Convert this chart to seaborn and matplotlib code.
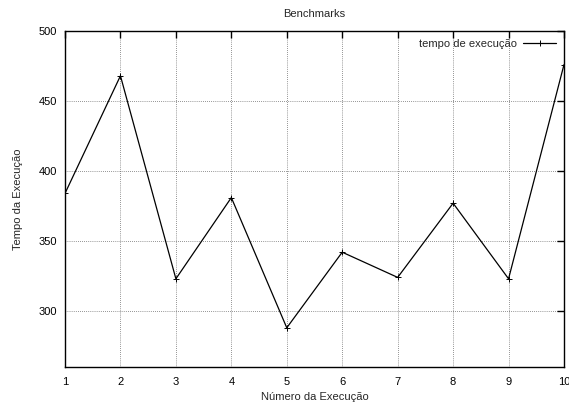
import matplotlib
matplotlib.use("Agg")
import matplotlib.pyplot as plt
import seaborn as sns
import pandas as pd

execucao = [1, 2, 3, 4, 5, 6, 7, 8, 9, 10]
tempo = [384, 468, 323, 381, 288, 342, 324, 377, 323, 476]
y_ticks = [300, 350, 400, 450, 500]

sns.set_theme(style="white")
plt.rcParams["font.family"] = ["Liberation Sans", "DejaVu Sans"]

df = pd.DataFrame({"x": execucao, "y": tempo})

fig = plt.figure(figsize=(5.69, 4.03), dpi=100)
ax = fig.add_axes([65 / 569, 1 - 367 / 403, (564 - 65) / 569, (367 - 31) / 403])

sns.lineplot(data=df, x="x", y="y", ax=ax, color="black", linewidth=0.9,
             marker="+", markersize=5, markeredgewidth=0.7,
             markeredgecolor="black", markerfacecolor="black",
             label="tempo de execução")

ax.set_xlim(1, 10)
ax.set_ylim(260, 500)
ax.set_xticks(execucao)
ax.set_yticks(y_ticks)
ax.grid(True, color="#333333", linestyle=(0, (1, 2)), linewidth=0.5)
ax.set_axisbelow(True)
for s in ax.spines.values():
    s.set_color("black")
    s.set_linewidth(1.0)
ax.tick_params(direction="in", length=5, width=1.0, colors="black",
               labelsize=8, top=True, right=True, pad=6)
ax.tick_params(axis="x", pad=7)

ax.set_title("Benchmarks", fontsize=8, pad=10)
ax.set_xlabel("Número da Execução", fontsize=8, labelpad=4)
ax.set_ylabel("Tempo da Execução", fontsize=8, labelpad=11)

ax.legend(loc="upper right", frameon=False, markerfirst=False, fontsize=8,
          handlelength=3.0, borderaxespad=0.3, handletextpad=0.5)

fig.savefig("out.png", dpi=100)
